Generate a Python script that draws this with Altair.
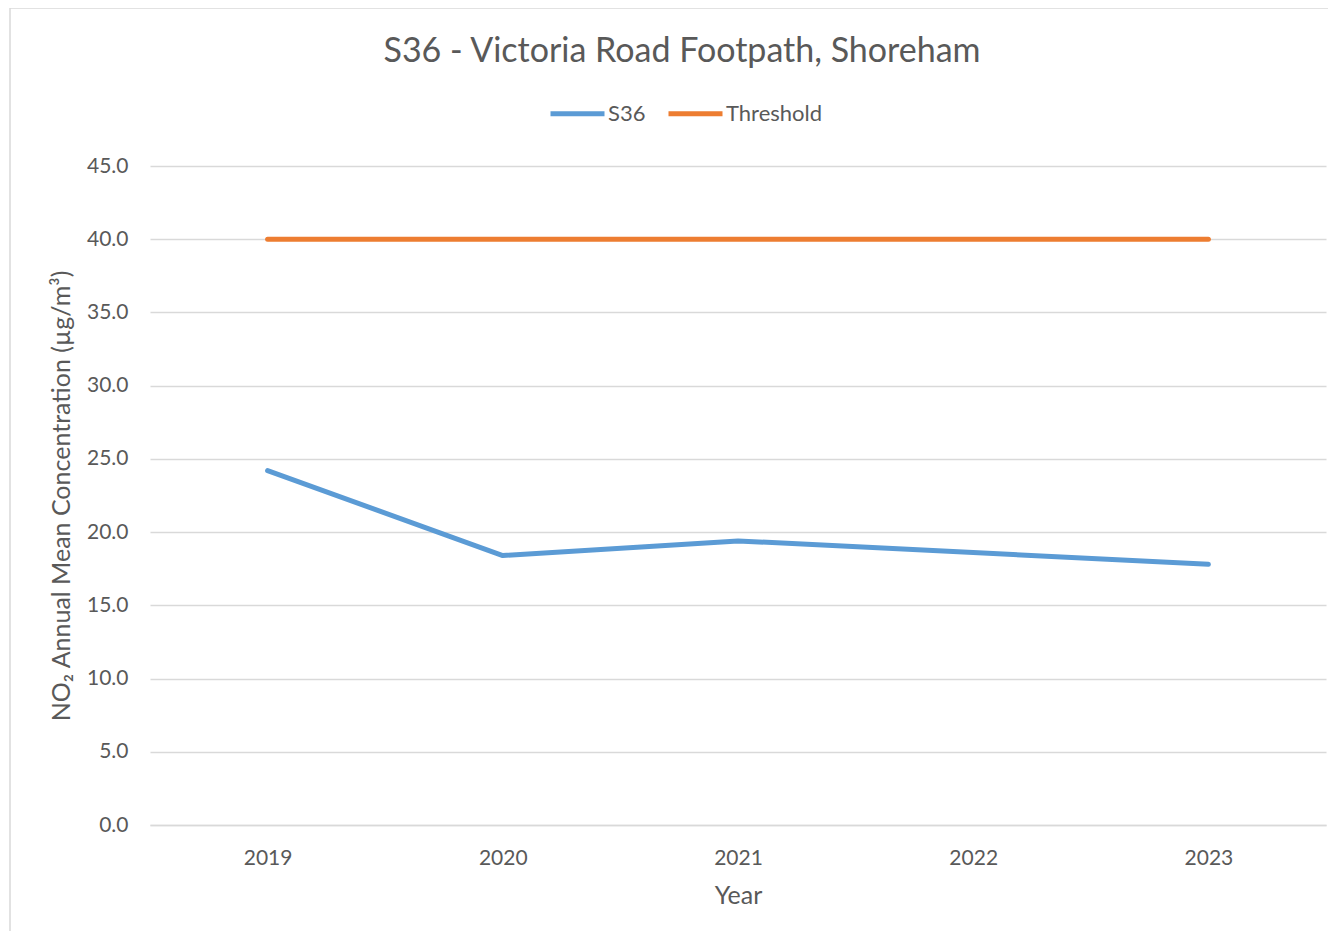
import altair as alt
import pandas as pd

years = ["2019", "2020", "2021", "2022", "2023"]
s36_values = [24.2, 18.4, 19.4, 18.6, 17.8]
threshold_values = [40.0, 40.0, 40.0, 40.0, 40.0]
series_names = ["S36", "Threshold"]
series_colors = ["#5b9bd5", "#ed7d31"]
y_ticks = [0, 5, 10, 15, 20, 25, 30, 35, 40, 45]

rows = []
for y, v in zip(years, s36_values):
    rows.append({"Year": y, "Value": v, "Series": "S36"})
for y, v in zip(years, threshold_values):
    rows.append({"Year": y, "Value": v, "Series": "Threshold"})
df = pd.DataFrame(rows)

FONT = "Lato"
GREY = "#595959"

border = alt.Chart(pd.DataFrame({"a": [0]})).mark_rect(
    fill=None, stroke="#d9d9d9", strokeWidth=1.5
).encode(
    x=alt.value(-140), x2=alt.value(1200), y=alt.value(-158), y2=alt.value(780)
)

lines = alt.Chart(df).mark_line(strokeWidth=5, strokeCap="round", strokeJoin="round").encode(
    x=alt.X("Year:O", sort=years,
            scale=alt.Scale(type="point", padding=0.5),
            axis=alt.Axis(title="Year", labelAngle=0, ticks=False, domain=True,
                          domainColor="#d9d9d9", domainWidth=1.5,
                          labelPadding=22, titlePadding=15)),
    y=alt.Y("Value:Q", scale=alt.Scale(domain=[0, 45], nice=False),
            axis=alt.Axis(values=y_ticks, format=".1f", ticks=False, domain=False,
                          title="NO₂ Annual Mean Concentration (µg/m³)",
                          labelPadding=22, titlePadding=12,
                          gridColor="#d9d9d9", gridWidth=1.5)),
    color=alt.Color("Series:N", scale=alt.Scale(domain=series_names, range=series_colors),
                    legend=alt.Legend(title=None, orient="none", direction="horizontal",
                                      legendX=398, legendY=-82,
                                      symbolType="stroke", symbolSize=2916,
                                      symbolStrokeWidth=5, labelOffset=1,
                                      columnPadding=12, labelFontSize=22,
                                      labelColor=GREY, labelFont=FONT)),
)

chart = alt.layer(border, lines).properties(
    width=1176, height=659,
    title=alt.TitleParams("S36 - Victoria Road Footpath, Shoreham", fontSize=34,
                          font=FONT, fontWeight="normal", color=GREY,
                          anchor="middle", dx=-56, offset=-62),
    autosize=alt.AutoSizeParams(type="none"),
    padding={"left": 142, "top": 158, "right": 2, "bottom": 106},
).configure_view(stroke=None).configure_axis(
    labelFont=FONT, labelFontSize=21, labelColor=GREY,
    titleFont=FONT, titleFontSize=25, titleColor=GREY, titleFontWeight="normal",
)

chart.save("out.html", embed_options={"renderer": "svg", "actions": False})
